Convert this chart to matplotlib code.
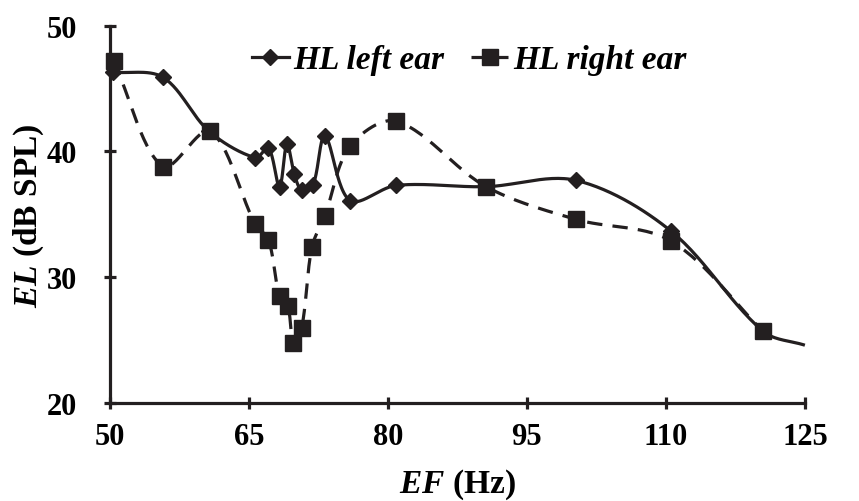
import numpy as np
import matplotlib
matplotlib.use("Agg")
import matplotlib.pyplot as plt
from matplotlib.lines import Line2D

plt.rcParams['font.family'] = ['Liberation Serif', 'DejaVu Serif']
plt.rcParams['font.weight'] = 'bold'
plt.rcParams['mathtext.fontset'] = 'custom'
plt.rcParams['mathtext.rm'] = 'Liberation Serif:bold'
plt.rcParams['mathtext.it'] = 'Liberation Serif:italic:bold'

# data
left_ef = [50.3, 55.7, 60.7, 65.7, 67.1, 68.3, 69.1, 69.9, 70.7, 71.9, 73.2, 75.9,
           80.9, 90.6, 100.3, 110.5, 120.5, 125.0]
left_el = [46.3, 45.9, 41.6, 39.5, 40.3, 37.2, 40.6, 38.2, 36.9, 37.3, 41.2, 36.1,
           37.3, 37.2, 37.7, 33.7, 25.7, 24.6]

right_ef = [50.4, 55.7, 60.8, 65.7, 67.1, 68.3, 69.2, 69.8, 70.7, 71.8, 73.2, 75.9,
            80.9, 90.6, 100.3, 110.5, 120.5]
right_el = [47.2, 38.8, 41.6, 34.2, 33.0, 28.5, 27.7, 24.8, 26.0, 32.4, 34.9, 40.4,
            42.4, 37.2, 34.6, 32.9, 25.7]

x_ticks = [50, 65, 80, 95, 110, 125]
y_ticks = [20, 30, 40, 50]

INK = '#231f20'


def smooth(ax, x, y, tension=0.33, n=30):
    """smoothed line through the points, worked out in pixel space so it
    behaves like a spreadsheet 'smoothed line'"""
    pts = ax.transData.transform(np.column_stack([x, y]))
    # reflect the ends so the end tangents follow the last chord
    pts = np.vstack([2 * pts[0] - pts[1], pts, 2 * pts[-1] - pts[-2]])
    t = np.linspace(0, 1, n)[:, None]
    out = []
    for i in range(1, len(pts) - 2):
        a, p0, p3, b = pts[i - 1], pts[i], pts[i + 1], pts[i + 2]
        l_in = np.hypot(*(p0 - a))
        l_mid = np.hypot(*(p3 - p0))
        l_out = np.hypot(*(b - p3))
        p1 = p0 + tension * (p3 - a) * l_mid / (l_in + l_mid)
        p2 = p3 - tension * (b - p0) * l_mid / (l_mid + l_out)
        seg = (1 - t) ** 3 * p0 + 3 * (1 - t) ** 2 * t * p1 \
            + 3 * (1 - t) * t ** 2 * p2 + t ** 3 * p3
        out.append(seg)
    out = ax.transData.inverted().transform(np.vstack(out))
    return out[:, 0], out[:, 1]


fig = plt.figure(figsize=(8.59, 5.02), dpi=100)
ax = fig.add_axes([0.128, 0.195, 0.809, 0.752])
ax.set_xlim(50, 125)
ax.set_ylim(20, 50)

lw = 2.3
dash = (0, (4.8, 3.2))
sx, sy = smooth(ax, left_ef, left_el)
ax.plot(sx, sy, color=INK, lw=lw, solid_capstyle='butt', clip_on=False)
ax.plot(left_ef[:-1], left_el[:-1], 'D', color=INK, ms=8, clip_on=False)

sx, sy = smooth(ax, right_ef, right_el)
ax.plot(sx, sy, color=INK, lw=lw, ls=dash, clip_on=False)
ax.plot(right_ef, right_el, 's', color=INK, ms=11.5, clip_on=False)

ax.set_xticks(x_ticks)
ax.set_yticks(y_ticks)
for s in ['top', 'right']:
    ax.spines[s].set_visible(False)
for s in ['left', 'bottom']:
    ax.spines[s].set_linewidth(2.3)
    ax.spines[s].set_color(INK)
ax.tick_params(direction='inout', length=9, width=2.3, color=INK, labelsize=22)
ax.tick_params(axis='y', pad=19)
ax.tick_params(axis='x', pad=9)

ax.set_xlabel(r'$EF$ (Hz)', fontsize=24, fontweight='bold', labelpad=11)
ax.set_ylabel(r'$EL$ (dB SPL)', fontsize=24, fontweight='bold', labelpad=1)

handles = [
    Line2D([], [], color=INK, lw=lw, marker='D', ms=8),
    Line2D([], [], color=INK, lw=lw, ls=dash, marker='s', ms=11.5),
]
ax.legend(handles, ['HL left ear', 'HL right ear'], loc='upper center',
          bbox_to_anchor=(0.517, 1.03), ncol=2, frameon=False, handlelength=1.1,
          handletextpad=0.15, columnspacing=0.8,
          prop={'family': 'Liberation Serif', 'style': 'italic', 'weight': 'bold', 'size': 24})

fig.savefig('out.png', dpi=100)
